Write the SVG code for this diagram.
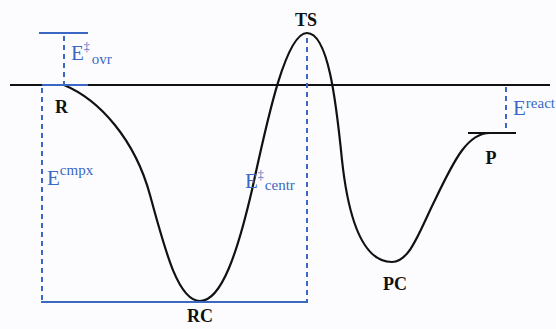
<svg xmlns="http://www.w3.org/2000/svg" width="556" height="329" viewBox="0 0 556 329">
<style>
.bl{stroke:#3a68c4;stroke-width:2;fill:none}
.dash{stroke:#3a68c4;stroke-width:2;fill:none;stroke-dasharray:5,4}
.k{stroke:#111;stroke-width:2.2;fill:none}
.lab{font-family:"Liberation Serif",serif;font-weight:bold;font-size:18px;fill:#111}
.e{font-family:"Liberation Serif",serif;font-size:21px;fill:#3a68c4}
</style>
<rect width="556" height="329" fill="#fcfcfe"/>
<g id="connectors">
<line class="k" x1="10" y1="85" x2="550" y2="85"/>
<line class="k" x1="468" y1="133" x2="516" y2="133"/>
<path class="k" d="M64,85 C100,100 135,140 150,195 C165,250 178,301 200,301 C222,301 238,250 252,190 C266,126 285,33 307,33 C328,33 336,100 342,160 C349,225 365,262 392,262 C410,262 420,230 435,200 C455,158 468,133 490,133"/>
<line class="bl" x1="39" y1="33" x2="88" y2="33"/>
<line class="bl" x1="42" y1="85" x2="88" y2="85"/>
<line class="dash" x1="64" y1="36" x2="64" y2="85"/>
<line class="dash" x1="42" y1="88" x2="42" y2="301"/>
<line class="bl" x1="41" y1="302" x2="308" y2="302"/>
<line class="dash" x1="307" y1="38" x2="307" y2="301"/>
<line class="dash" x1="506" y1="87" x2="506" y2="132"/>
</g>
<g id="R"><text class="lab" x="55" y="113">R</text></g>
<g id="RC"><text class="lab" x="200" y="322" text-anchor="middle">RC</text></g>
<g id="TS"><text class="lab" x="306" y="26" text-anchor="middle">TS</text></g>
<g id="PC"><text class="lab" x="395" y="290" text-anchor="middle">PC</text></g>
<g id="P"><text class="lab" x="491" y="164" text-anchor="middle">P</text></g>
<g id="Eovr"><text class="e" x="71" y="60">E<tspan font-size="12" dy="-9">‡</tspan><tspan font-size="15" dx="2" dy="13">ovr</tspan></text></g>
<g id="Ecmpx"><text class="e" x="47" y="185">E<tspan font-size="15" dy="-10">cmpx</tspan></text></g>
<g id="Ecentr"><text class="e" x="245" y="188">E<tspan font-size="12" dy="-9">‡</tspan><tspan font-size="15" dx="1" dy="11">centr</tspan></text></g>
<g id="Ereact"><text class="e" x="513" y="115">E<tspan font-size="15" dy="-7">react</tspan></text></g>
</svg>
